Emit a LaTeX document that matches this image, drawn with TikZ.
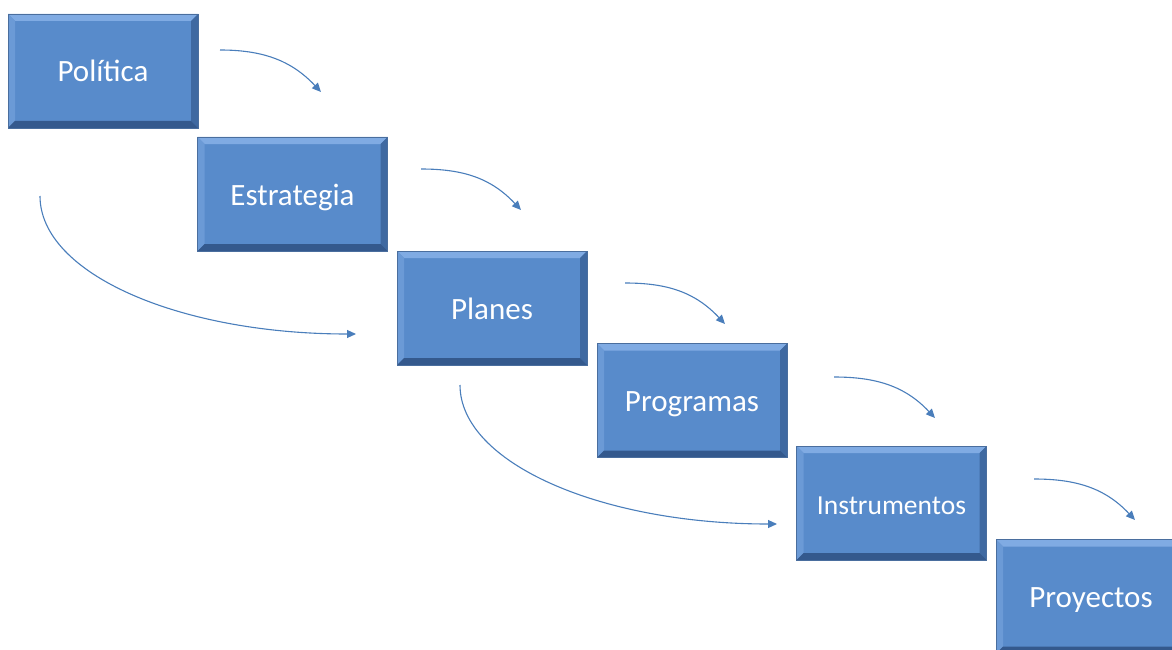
\documentclass[tikz,border=0pt]{standalone}
\usepackage{fontspec}
\setmainfont{Carlito}
\usetikzlibrary{arrows.meta}

\definecolor{boxfill}{HTML}{588BCB}
\definecolor{bevtop}{HTML}{80ABE3}
\definecolor{bevleft}{HTML}{6B9AD6}
\definecolor{bevright}{HTML}{3F69A1}
\definecolor{bevbottom}{HTML}{34598D}
\definecolor{boxline}{HTML}{4A6E9E}
\definecolor{arrowblue}{HTML}{4A7EBB}

\tikzset{
  bevelbox/.style={
    minimum width=190pt, minimum height=114pt, inner sep=0pt,
    text height=26pt, text depth=4pt,
    fill=boxfill, draw=boxline, line width=0.8pt,
    text=white, font=\fontsize{31}{36}\selectfont,
    path picture={
      \def\bw{7pt}
      \coordinate (nw) at (path picture bounding box.north west);
      \coordinate (ne) at (path picture bounding box.north east);
      \coordinate (sw) at (path picture bounding box.south west);
      \coordinate (se) at (path picture bounding box.south east);
      \fill[bevtop] (nw) -- (ne) -- ([xshift=-\bw,yshift=-\bw]ne) -- ([xshift=\bw,yshift=-\bw]nw) -- cycle;
      \fill[bevleft] (nw) -- ([xshift=\bw,yshift=-\bw]nw) -- ([xshift=\bw,yshift=\bw]sw) -- (sw) -- cycle;
      \fill[bevright] (ne) -- (se) -- ([xshift=-\bw,yshift=\bw]se) -- ([xshift=-\bw,yshift=-\bw]ne) -- cycle;
      \fill[bevbottom] (sw) -- ([xshift=\bw,yshift=\bw]sw) -- ([xshift=-\bw,yshift=\bw]se) -- (se) -- cycle;
    }
  },
  flow/.style={draw=arrowblue, line width=1.1pt,
    -{Triangle[length=9pt,width=8pt]}}
}

\begin{document}
\begin{tikzpicture}[x=1pt, y=-1pt]
  \useasboundingbox (0,0) rectangle (1172,650);

  % staircase of steps
  \node[bevelbox] (pol) at (103,71) {Política};
  \node[bevelbox] (est) at (292.5,194) {Estrategia};
  \node[bevelbox] (pla) at (492,308) {Planes};
  \node[bevelbox] (pro) at (692,400.5) {Programas};
  \node[bevelbox, font=\fontsize{27.5}{32}\selectfont] (ins) at (891.5,503) {Instrumentos};
  \node[bevelbox] (pry) at (1091,596.5) {Proyectos};

  % end points of the small step arrows
  \coordinate (a1s) at (220,50);   \coordinate (a1e) at (321,92);
  \coordinate (a2s) at (421,169);  \coordinate (a2e) at (521,210);
  \coordinate (a3s) at (625,283);  \coordinate (a3e) at (725,324);
  \coordinate (a4s) at (834,377);  \coordinate (a4e) at (935,418);
  \coordinate (a5s) at (1034,479); \coordinate (a5e) at (1135,520);

  % end points of the long sweeping arrows
  \coordinate (b1s) at (40,196);  \coordinate (b1e) at (356,334);
  \coordinate (b2s) at (460,385); \coordinate (b2e) at (777,524);

  \foreach \s/\e in {a1s/a1e, a2s/a2e, a3s/a3e, a4s/a4e, a5s/a5e}
    \draw[flow] (\s) .. controls +(42,0) and +(-30,-32) .. (\e);

  \foreach \s/\e in {b1s/b1e, b2s/b2e}
    \draw[flow] (\s) .. controls +(0,78) and +(-176,0) .. (\e);
\end{tikzpicture}
\end{document}
